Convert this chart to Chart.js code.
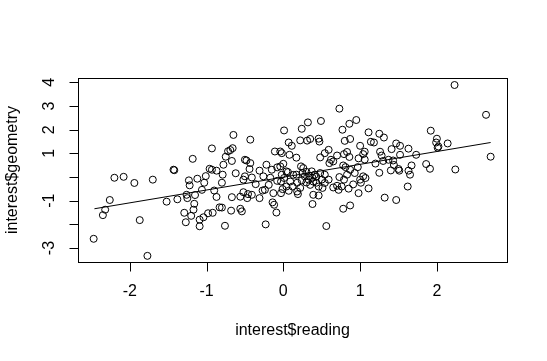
<!DOCTYPE html>
<html>
<head>
<meta charset="utf-8">
<script src="https://cdn.jsdelivr.net/npm/chart.js@4"></script>
<style>
  html, body { margin: 0; padding: 0; background: #ffffff; }
  canvas { display: block; }
</style>
</head>
<body>
<canvas id="c" width="547" height="361"></canvas>
<script>
// ---- data ----
const readingX = [
  -2.47,-2.35,-2.32,-2.26,-2.20,-2.08,-1.94,-1.70,-1.87,-1.77,
  -1.43,-1.42,-1.52,-1.38,-1.29,-1.18,-0.93,-0.65,-0.43,-1.23,
  -1.22,-1.12,-1.26,-1.25,-1.15,-1.16,-1.17,-1.27,-1.20,-1.09,
  -1.09,-1.04,-0.98,-0.92,-0.83,-0.80,-0.76,-0.68,-0.56,-0.54,
  -0.23,-1.06,-1.03,-1.01,-0.96,-0.93,-0.87,-0.79,-0.80,-0.90,
  -0.87,-0.78,-0.75,-0.72,-0.69,-0.66,-0.67,-0.62,-0.67,-0.56,
  -0.52,-0.50,-0.48,-0.43,-0.44,-0.50,-0.52,-0.41,-0.36,-0.46,
  -0.41,-0.47,-0.31,-0.31,-0.26,-0.27,-0.24,-0.19,-0.13,-0.14,
  -0.12,-0.09,-0.22,-0.15,-0.11,-0.04,-0.02,0.07,0.11,0.08,
  0.17,0.22,0.31,-0.08,-0.04,0.00,0.04,-0.02,0.01,0.06,
  0.09,-0.03,0.04,-0.01,-0.03,0.07,0.12,0.18,0.19,0.22,
  0.23,0.26,0.25,0.28,0.30,0.24,0.17,0.13,0.01,0.24,
  0.32,0.49,0.73,0.77,0.86,0.95,0.80,0.87,0.46,0.35,
  0.47,1.00,1.06,1.04,0.98,0.97,0.83,0.79,0.70,0.86,
  0.59,0.54,0.48,0.62,0.65,0.60,0.78,0.81,0.87,0.93,
  1.04,1.07,1.00,0.83,0.79,0.73,0.76,0.85,0.70,0.59,
  0.54,0.51,0.46,0.39,0.33,0.37,0.41,0.48,0.54,0.65,
  0.72,0.38,0.39,0.46,0.56,0.78,0.87,0.98,1.11,0.91,
  1.11,1.25,1.31,1.14,1.18,1.47,1.52,1.41,1.63,1.26,
  1.28,1.52,1.73,1.37,1.20,1.86,1.91,1.67,1.40,1.50,
  1.51,1.63,1.65,1.25,1.62,1.32,1.47,1.92,2.00,1.99,
  2.02,2.01,2.14,2.23,2.64,2.70,2.24,1.43,1.44,1.30,
  1.06,1.01,0.34,0.38,0.43,0.50,0.30,0.18,0.35,0.43,
  -0.17,-0.08
];
const geometryY = [
  -2.61,-1.61,-1.38,-0.97,-0.03,0.01,-0.25,-0.11,-1.82,-3.33,
  0.31,0.29,-1.04,-0.94,-1.51,0.77,1.21,1.78,1.58,-0.14,
  -0.35,-0.07,-0.75,-0.89,-0.76,-1.13,-1.38,-1.91,-1.64,-1.80,
  -2.08,-1.70,-1.53,-1.51,-1.28,-1.29,-2.06,-1.42,-1.34,-1.45,
  -2.00,-0.54,-0.24,0.04,0.35,0.31,0.27,0.10,-0.24,-0.57,
  -0.84,0.52,0.86,1.09,1.14,1.22,0.68,0.16,-0.85,-0.83,
  -0.64,0.73,0.70,0.59,0.34,0.03,-0.11,-0.02,-0.30,-0.72,
  -0.75,-0.89,-0.89,0.27,0.03,-0.57,-0.54,-0.33,-0.68,-1.07,
  -1.17,-1.50,0.52,0.31,1.08,1.08,1.01,1.46,1.32,0.94,
  0.82,1.55,1.54,0.41,0.45,0.56,0.24,0.10,-0.04,0.21,
  -0.19,-0.19,-0.40,-0.51,-0.68,-0.58,-0.40,-0.61,-0.72,-0.46,
  0.45,0.38,0.17,0.03,-0.23,-0.14,0.10,0.09,1.97,2.04,
  2.31,2.37,2.89,2.00,2.25,2.41,1.53,1.61,1.62,1.61,
  1.50,1.32,1.07,0.97,0.79,0.42,1.06,0.97,0.91,0.85,
  1.15,1.01,0.83,0.73,0.66,0.59,0.49,0.42,0.31,0.17,
  0.03,-0.04,-0.11,0.10,-0.11,0.00,-0.40,-0.49,-0.37,-0.11,
  -0.25,-0.46,-0.40,-0.19,-0.11,0.24,0.10,0.17,0.10,-0.44,
  -0.54,-1.14,-0.75,-0.78,-2.07,-1.34,-1.20,-0.68,-0.48,-0.31,
  1.89,1.83,1.67,1.49,1.46,1.42,1.32,1.18,1.20,1.07,
  0.91,0.94,0.94,0.73,0.57,0.55,0.35,0.49,0.28,0.34,
  0.27,0.27,0.10,0.18,-0.40,-0.87,-0.97,1.96,1.62,1.46,
  1.29,1.24,1.42,3.89,2.63,0.86,0.32,0.70,0.51,0.68,
  0.74,-0.24,0.05,-0.03,-0.24,-0.11,0.22,-0.24,-0.33,0.01,
  -0.03,-0.16
];
// fitted regression line end points
const fitX = [-2.46, 2.70];
const fitY = [-1.34, 1.46];
// axis ticks
const xTickValues = [-2, -1, 0, 1, 2];
const xTickLabels = ['-2', '-1', '0', '1', '2'];
const yTickValues = [-3, -2, -1, 0, 1, 2, 3, 4];
const yTickLabels = ['-3', '', '-1', '', '1', '2', '3', '4'];
const xTitle = 'interest$reading';
const yTitle = 'interest$geometry';

const points = readingX.map((x, i) => ({ x: x, y: geometryY[i] }));
const fitLine = fitX.map((x, i) => ({ x: x, y: fitY[i] }));

const FONT = '16px "Liberation Sans", Arial, sans-serif';

const rAxes = {
  id: 'rAxes',
  afterDraw(chart) {
    const ctx = chart.ctx;
    const a = chart.chartArea;
    const xs = chart.scales.x, ys = chart.scales.y;
    ctx.save();
    ctx.strokeStyle = '#000';
    ctx.lineWidth = 1;
    // box
    ctx.strokeRect(Math.round(a.left) + 0.5, Math.round(a.top) + 0.5,
                   Math.round(a.right - a.left), Math.round(a.bottom - a.top));
    ctx.fillStyle = '#000';
    ctx.font = FONT;
    const tick = 9;
    // x axis
    const bx = Math.round(a.bottom) + 0.5;
    ctx.beginPath();
    const x0 = Math.round(xs.getPixelForValue(xTickValues[0])) + 0.5;
    const x1 = Math.round(xs.getPixelForValue(xTickValues[xTickValues.length - 1])) + 0.5;
    ctx.moveTo(x0, bx); ctx.lineTo(x1, bx);
    xTickValues.forEach(v => {
      const px = Math.round(xs.getPixelForValue(v)) + 0.5;
      ctx.moveTo(px, bx); ctx.lineTo(px, bx + tick);
    });
    ctx.stroke();
    ctx.textAlign = 'center';
    ctx.textBaseline = 'middle';
    xTickValues.forEach((v, i) => {
      ctx.fillText(xTickLabels[i], xs.getPixelForValue(v), 292);
    });
    ctx.fillText(xTitle, (a.left + a.right) / 2, 331);
    // y axis
    const lx = Math.round(a.left) + 0.5;
    ctx.beginPath();
    const y0 = Math.round(ys.getPixelForValue(yTickValues[0])) + 0.5;
    const y1 = Math.round(ys.getPixelForValue(yTickValues[yTickValues.length - 1])) + 0.5;
    ctx.moveTo(lx, y0); ctx.lineTo(lx, y1);
    yTickValues.forEach(v => {
      const py = Math.round(ys.getPixelForValue(v)) + 0.5;
      ctx.moveTo(lx, py); ctx.lineTo(lx - tick, py);
    });
    ctx.stroke();
    yTickValues.forEach((v, i) => {
      if (!yTickLabels[i]) return;
      ctx.save();
      ctx.translate(50, ys.getPixelForValue(v));
      ctx.rotate(-Math.PI / 2);
      ctx.fillText(yTickLabels[i], 0, 0);
      ctx.restore();
    });
    ctx.save();
    ctx.translate(13, (a.top + a.bottom) / 2);
    ctx.rotate(-Math.PI / 2);
    ctx.fillText(yTitle, 0, 0);
    ctx.restore();
    ctx.restore();
  }
};

new Chart(document.getElementById('c'), {
  type: 'scatter',
  data: {
    datasets: [
      {
        data: points,
        pointStyle: 'circle',
        pointRadius: 3.5,
        pointHoverRadius: 3.5,
        pointBorderWidth: 1,
        pointBorderColor: '#000',
        pointBackgroundColor: 'rgba(0,0,0,0)',
        showLine: false
      },
      {
        data: fitLine,
        showLine: true,
        pointRadius: 0,
        borderColor: '#000',
        borderWidth: 1,
        fill: false
      }
    ]
  },
  options: {
    responsive: false,
    animation: false,
    devicePixelRatio: 1,
    layout: { padding: { left: 78, right: 40, top: 78, bottom: 99 } },
    plugins: { legend: { display: false }, tooltip: { enabled: false } },
    scales: {
      x: { type: 'linear', min: -2.674, max: 2.913, display: false },
      y: { type: 'linear', min: -3.59, max: 4.186, display: false }
    }
  },
  plugins: [rAxes]
});
</script>
</body>
</html>
